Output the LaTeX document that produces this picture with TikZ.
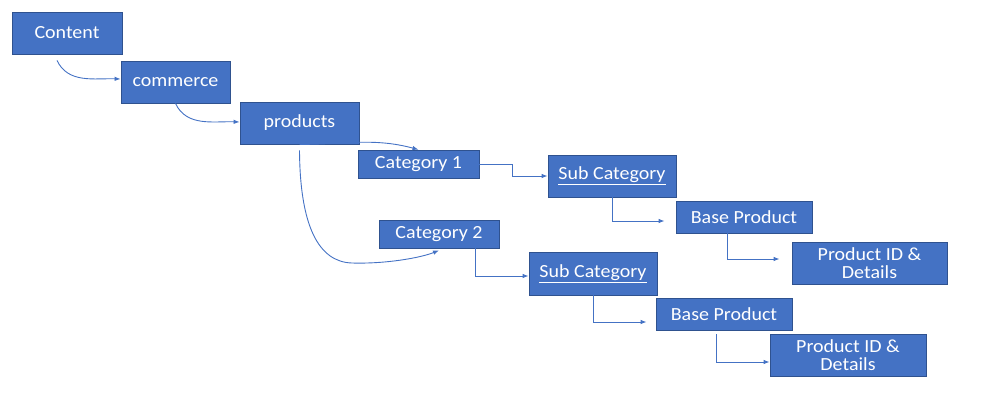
\documentclass[tikz,border=0pt]{standalone}
\usepackage{fontspec}
\setmainfont{Carlito}[FakeStretch=1.08]
\usetikzlibrary{arrows.meta,calc}
\definecolor{boxfill}{HTML}{4472C4}
\definecolor{boxline}{HTML}{2F528F}
\definecolor{conncol}{HTML}{4472C4}
\begin{document}
\begin{tikzpicture}[x=1pt,y=-1pt,
  box/.style={draw=boxline,fill=boxfill,line width=0.8pt,text=white,inner sep=0pt,
    font=\fontsize{18.5}{17.5}\selectfont,align=center},
  conn/.style={draw=conncol,line width=0.9pt,-{Latex[length=6pt,width=4.5pt]}}]
\useasboundingbox (0,0) rectangle (999,408);
\node[box,minimum width=110pt,minimum height=42pt] (content) at (67,33) {Content};
\node[box,minimum width=109pt,minimum height=42pt] (commerce) at (175.5,82) {commerce};
\node[box,minimum width=119pt,minimum height=42pt] (products) at (299.5,123) {products};
\node[box,minimum width=121pt,minimum height=28pt] (cat1) at (418.5,164) {Category 1};
\node[box,minimum width=128pt,minimum height=42pt] (sub1) at (612,176) {\underline{Sub Category}};
\node[box,minimum width=136pt,minimum height=32pt] (base1) at (744,217) {Base Product};
\node[box,minimum width=155pt,minimum height=42pt] (pid1) at (869.5,263) {Product ID \&\\Details};
\node[box,minimum width=120pt,minimum height=28pt] (cat2) at (439,234) {Category 2};
\node[box,minimum width=128pt,minimum height=43pt] (sub2) at (593,273.5) {\underline{Sub Category}};
\node[box,minimum width=136pt,minimum height=32pt] (base2) at (724,314) {Base Product};
\node[box,minimum width=156pt,minimum height=42pt] (pid2) at (848,355) {Product ID \&\\Details};
% curved connectors
\draw[conn] ([xshift=-10pt,yshift=-6pt]content.south) to[out=-65,in=178] ([yshift=3pt]commerce.west);
\draw[conn] (commerce.south) to[out=-65,in=178] ([yshift=1pt]products.west);
\draw[conn] (products.south) to[out=0,in=165] (cat1.north);
\draw[conn] ([yshift=-6pt]products.south) .. controls (300,225) and (318,262) .. (352,263)
  .. controls (385,264) and (420,258) .. ([yshift=-2pt]cat2.south);
% elbow connectors
\draw[conn] (cat1.east) -| ([xshift=-35pt]sub1.west) -- (sub1.west);
\draw[conn] (sub1.south) |- ([xshift=-11pt,yshift=-4pt]base1.west);
\draw[conn] ([xshift=-17pt]base1.south) |- ([xshift=-12pt,yshift=4pt]pid1.west);
\draw[conn] ([xshift=36pt]cat2.south) |- ([yshift=-2.5pt]sub2.west);
\draw[conn] (sub2.south) |- ([xshift=-9pt,yshift=-8pt]base2.west);
\draw[conn] ([xshift=-8pt,yshift=-4pt]base2.south) |- ([yshift=-7pt]pid2.west);
\end{tikzpicture}
\end{document}
